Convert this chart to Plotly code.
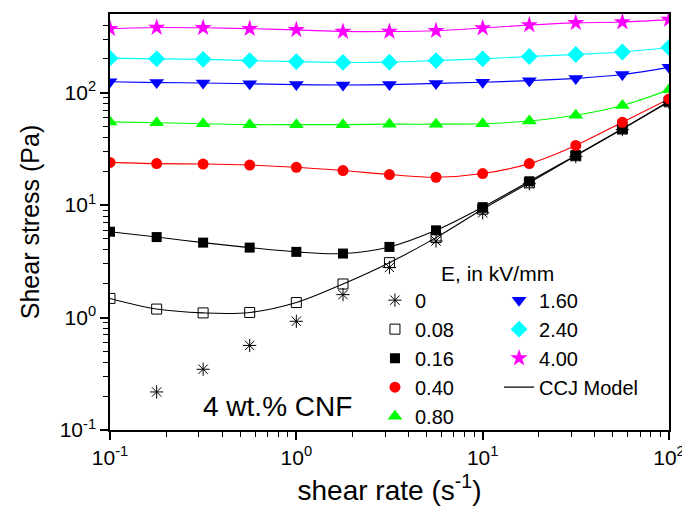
import plotly.graph_objects as go

# ---- data ----
shear_rate = [0.1, 0.178, 0.316, 0.562, 1.0, 1.78, 3.16, 5.62, 10.0, 17.8, 31.6, 56.2, 100.0]

e_labels = ["0", "0.08", "0.16", "0.40", "0.80", "1.60", "2.40", "4.00"]

stress_0 = [None, 0.218, 0.347, 0.565, 0.927, 1.6, 2.79, 4.8, 8.55, 15.5, 27.0, 47.0, 82.0]
stress_008 = [1.48, 1.19, 1.10, 1.11, 1.36, 1.99, 3.08, 5.14, 9.2, 15.8, 27.5, 47.5, 83.0]
stress_016 = [5.8, 5.2, 4.64, 4.19, 3.84, 3.71, 4.25, 5.97, 9.6, 16.3, 27.7, 47.7, 84.0]
stress_040 = [24.0, 23.4, 23.2, 22.7, 21.7, 20.3, 18.7, 17.7, 19.1, 23.4, 34.0, 54.6, 88.0]
stress_080 = [55.0, 54.0, 53.0, 52.0, 52.0, 52.0, 52.5, 52.5, 53.0, 56.0, 63.0, 77.0, 106.0]
stress_160 = [125.0, 123.0, 122.0, 120.0, 118.0, 117.0, 118.0, 121.0, 124.0, 128.0, 134.0, 145.0, 168.0]
stress_240 = [203.0, 200.0, 198.0, 193.0, 189.0, 186.0, 187.0, 193.0, 200.0, 210.0, 219.0, 230.0, 252.0]
stress_400 = [371.0, 380.0, 378.0, 371.0, 362.0, 350.0, 350.0, 356.0, 376.0, 400.0, 418.0, 425.0, 447.0]

series = [stress_0, stress_008, stress_016, stress_040, stress_080, stress_160, stress_240, stress_400]

x_tick_vals = [0.1, 1, 10, 100]
x_tick_text = ["10<sup>-1</sup>", "10<sup>0</sup>", "10<sup>1</sup>", "10<sup>2</sup>"]
y_tick_vals = [0.1, 1, 10, 100]
y_tick_text = ["10<sup>-1</sup>", "10<sup>0</sup>", "10<sup>1</sup>", "10<sup>2</sup>"]
minor_x_vals = [0.2, 0.3, 0.4, 0.5, 0.6, 0.7, 0.8, 0.9,
                2, 3, 4, 5, 6, 7, 8, 9,
                20, 30, 40, 50, 60, 70, 80, 90]
minor_y_vals = [0.2, 0.3, 0.4, 0.5, 0.6, 0.7, 0.8, 0.9,
                2, 3, 4, 5, 6, 7, 8, 9,
                20, 30, 40, 50, 60, 70, 80, 90,
                200, 300, 400]

# ---- styles ----
colors = ["black", "black", "black", "#FF0000", "#00FF00", "#0000FF", "#00FFFF", "#FF00FF"]
symbols = ["asterisk-open", "square-open", "square", "circle", "triangle-up",
           "triangle-down", "diamond", "star"]
sizes = [11, 10, 10, 11, 13, 13, 13, 13]
has_model = [False, True, True, True, True, True, True, True]
legend_ids = ["legend", "legend", "legend", "legend", "legend", "legend2", "legend2", "legend2"]

FONT = "Arial, 'Liberation Sans', sans-serif"

fig = go.Figure()

# model lines
for s, c, m in zip(series, colors, has_model):
    if m:
        fig.add_trace(go.Scatter(
            x=shear_rate, y=s, mode="lines",
            line=dict(color=c, width=1.1, shape="spline", smoothing=1.0),
            showlegend=False, hoverinfo="skip"))

# markers
for s, c, sym, sz, lab, lg in zip(series, colors, symbols, sizes, e_labels, legend_ids):
    marker = dict(symbol=sym, size=sz, color=c)
    if sym in ("asterisk-open", "square-open"):
        marker["line"] = dict(color=c, width=1)
    else:
        marker["line"] = dict(width=0)
    fig.add_trace(go.Scatter(
        x=shear_rate, y=s, mode="markers", marker=marker,
        name=lab, legend=lg))

# legend-only entry for the model line
fig.add_trace(go.Scatter(
    x=[None], y=[None], mode="lines", line=dict(color="black", width=1.1),
    name="CCJ Model", legend="legend2"))

axis_common = dict(
    type="log",
    showline=True, linecolor="black", linewidth=1.5, mirror=True,
    ticks="outside", ticklen=8, tickwidth=1.5, tickcolor="black",
    showgrid=False, zeroline=False,
    tickfont=dict(family=FONT, size=21, color="black"),
)

fig.update_layout(
    width=682, height=507,
    margin=dict(l=102, r=21, t=4, b=85),
    paper_bgcolor="white", plot_bgcolor="white",
    font=dict(family=FONT, color="black"),
    xaxis=dict(axis_common, range=[-1, 2],
               tickmode="array", tickvals=x_tick_vals, ticktext=x_tick_text,
               minor=dict(tickmode="array", tickvals=minor_x_vals, ticks="outside",
                          ticklen=5, tickwidth=1.2, tickcolor="black", showgrid=False),
               title=dict(text="shear rate (s<sup>-1</sup>)", font=dict(family=FONT, size=28), standoff=12)),
    yaxis=dict(axis_common, range=[-1, 2.70],
               tickmode="array", tickvals=y_tick_vals, ticktext=y_tick_text,
               minor=dict(tickmode="array", tickvals=minor_y_vals, ticks="outside",
                          ticklen=5, tickwidth=1.2, tickcolor="black", showgrid=False),
               title=dict(text="Shear stress (Pa)", font=dict(family=FONT, size=25), standoff=13)),
    legend=dict(x=0.474, y=0.359, xanchor="left", yanchor="top",
                bgcolor="rgba(0,0,0,0)", font=dict(family=FONT, size=20),
                tracegroupgap=0, itemsizing="trace"),
    legend2=dict(x=0.696, y=0.359, xanchor="left", yanchor="top",
                 bgcolor="rgba(0,0,0,0)", font=dict(family=FONT, size=20),
                 tracegroupgap=0, itemsizing="trace"),
    annotations=[
        dict(text="E, in kV/mm", x=0.694, y=0.376, xref="paper", yref="paper",
             xanchor="center", yanchor="middle", showarrow=False,
             font=dict(family=FONT, size=21)),
        dict(text="4 wt.% CNF", x=0.30, y=0.057, xref="paper", yref="paper",
             xanchor="center", yanchor="middle", showarrow=False,
             font=dict(family=FONT, size=28)),
    ],
)

fig.write_html("out.html")
